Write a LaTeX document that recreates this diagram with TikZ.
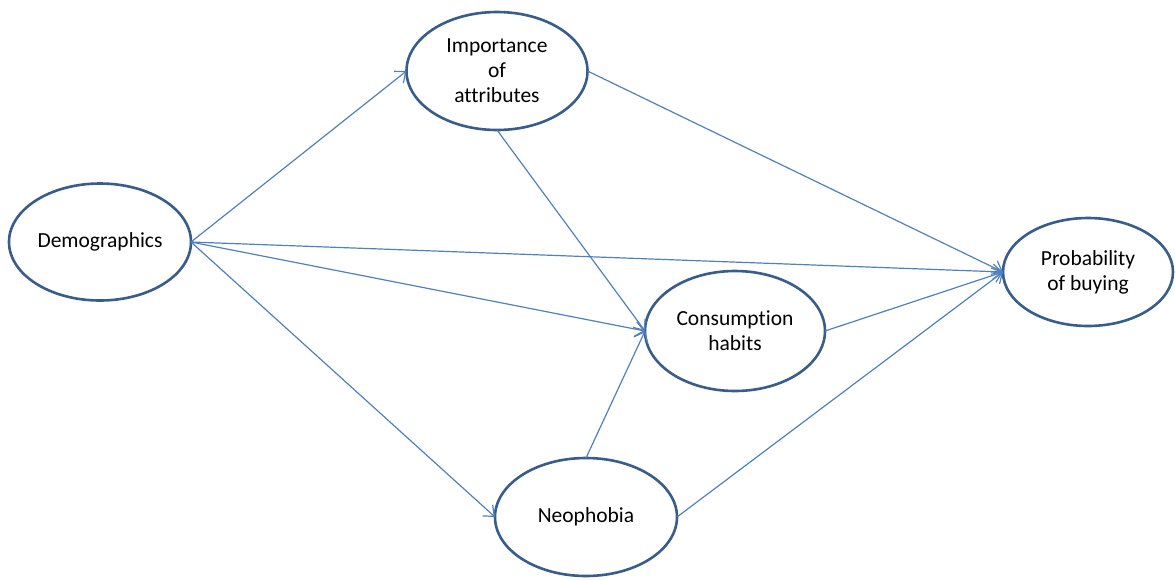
\documentclass[tikz,border=0pt]{standalone}
\usepackage{fontspec}
\setmainfont{Carlito}[Ligatures=NoCommon]
\usetikzlibrary{shapes.geometric,arrows.meta}
\definecolor{ringblue}{RGB}{56,93,138}
\definecolor{linkblue}{RGB}{79,129,189}
\tikzset{
  factor/.style={ellipse, draw=ringblue, line width=2.6pt, fill=white,
    inner sep=0pt, outer sep=0pt, align=center,
    font=\fontsize{21.5}{25}\selectfont},
  link/.style={draw=linkblue, line width=1.2pt,
    -{Straight Barb[length=9pt,width=15pt,line width=1.2pt]}}
}
\begin{document}
\begin{tikzpicture}[x=1pt,y=-1pt]
\useasboundingbox (0,0) rectangle (1175,579);
% constructs of the model
\node[factor, minimum width=182pt, minimum height=117pt] (demo) at (100,242) {Demographics};
\node[factor, minimum width=181pt, minimum height=118pt] (imp) at (497,71) {Importance\\of\\attributes};
\node[factor, minimum width=180pt, minimum height=120pt] (cons) at (735,331) {Consumption\\habits};
\node[factor, minimum width=170pt, minimum height=108pt] (prob) at (1088,272) {Probability\\of buying};
\node[factor, minimum width=182pt, minimum height=118pt] (neo) at (586,517) {Neophobia};
% hypothesised paths
\draw[link] (demo.east) -- (imp.west);
\draw[link] (demo.east) -- (prob.west);
\draw[link] (demo.east) -- (cons.west);
\draw[link] (demo.east) -- (neo.west);
\draw[link] (imp.east) -- (prob.west);
\draw[link] (imp.south) -- (cons.west);
\draw[link] (neo.north) -- (cons.west);
\draw[link] (cons.east) -- (prob.west);
\draw[link] (neo.east) -- (prob.west);
\end{tikzpicture}
\end{document}
